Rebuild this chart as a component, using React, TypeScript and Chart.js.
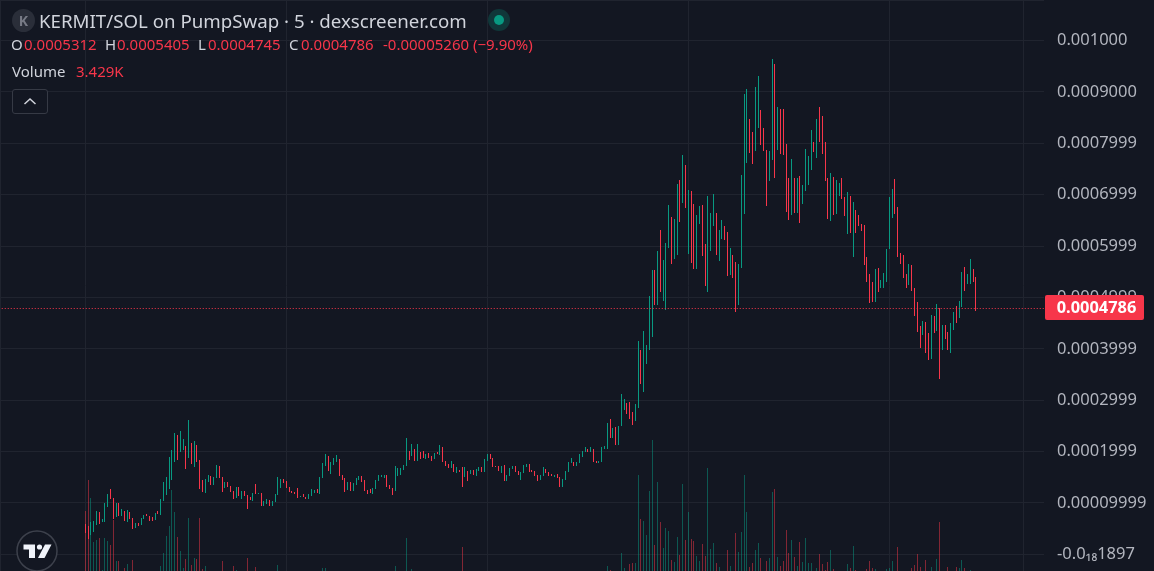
import React, { useEffect, useRef } from "react";
import { Chart, registerables } from "chart.js";

Chart.register(...registerables);

// Prices are in units of 0.0001 SOL, one entry per 5-minute candle.
const candleHighs = [
  0.59,0.55,0.63,0.65,0.85,0.83,0.69,1.00,1.18,1.27,
  1.10,1.00,1.00,0.88,0.85,0.86,0.83,0.71,0.61,0.61,
  0.71,0.77,0.79,0.75,0.73,0.81,0.85,1.08,1.41,1.51,
  1.89,2.03,2.36,2.32,2.40,2.24,2.11,2.61,2.17,2.20,
  2.13,1.84,1.45,1.47,1.54,1.52,1.51,1.74,1.72,1.51,
  1.41,1.41,1.33,1.23,1.31,1.31,1.23,1.23,1.16,1.12,
  1.19,1.37,1.19,1.19,1.04,1.08,1.06,1.04,1.18,1.51,
  1.47,1.47,1.43,1.31,1.23,1.21,1.29,1.14,1.18,1.12,
  1.18,1.27,1.25,1.27,1.51,1.78,1.95,1.91,1.80,1.87,
  1.93,1.85,1.54,1.49,1.41,1.41,1.39,1.49,1.52,1.52,
  1.45,1.25,1.27,1.29,1.45,1.54,1.54,1.54,1.54,1.35,
  1.29,1.72,1.68,1.68,1.74,2.26,2.01,2.15,2.05,2.15,
  1.99,2.01,1.95,1.97,1.91,1.97,1.99,2.13,2.09,1.82,
  1.76,1.82,1.76,1.70,1.64,1.70,1.70,1.62,1.64,1.64,
  1.66,1.70,1.70,1.85,1.95,1.95,1.87,1.72,1.72,1.72,
  1.74,1.54,1.68,1.72,1.72,1.62,1.60,1.74,1.76,1.76,
  1.64,1.62,1.54,1.54,1.70,1.66,1.60,1.56,1.54,1.56,
  1.51,1.47,1.62,1.80,1.87,1.80,1.80,1.95,2.01,2.09,
  2.05,2.09,2.05,1.82,1.82,2.09,2.11,2.55,2.63,2.46,
  2.48,2.50,3.12,3.03,2.95,2.97,2.77,2.93,4.16,3.98,
  4.35,4.08,5.03,5.54,5.54,5.91,6.32,5.73,6.06,6.81,
  6.57,6.53,7.21,7.29,7.78,7.58,7.10,7.08,6.82,6.61,
  6.79,6.81,6.05,6.98,6.65,7.02,6.65,6.32,6.51,6.40,
  6.28,5.97,5.83,5.69,5.66,7.39,8.97,9.06,8.48,8.23,
  9.10,9.32,8.64,8.29,7.88,7.86,9.65,9.55,8.71,8.66,
  8.66,7.99,7.33,7.70,7.33,7.33,7.37,7.19,7.90,7.76,
  8.27,8.03,8.48,8.71,8.54,8.03,7.33,7.43,7.35,7.29,
  7.23,7.32,6.95,7.05,6.97,6.85,6.71,6.60,6.44,6.42,
  5.78,5.45,5.31,5.55,5.58,5.35,5.47,5.95,6.95,7.12,
  7.30,6.77,5.86,5.82,5.45,5.66,5.64,5.18,4.92,4.44,
  4.55,4.53,4.30,4.65,4.63,4.88,4.79,4.47,4.47,4.32,
  4.51,4.71,4.84,4.94,5.49,5.60,5.45,5.74,5.55,5.405,
];
const candleLows = [
  0.42,0.30,0.38,0.43,0.57,0.59,0.62,0.63,0.92,1.08,
  0.69,0.73,0.75,0.75,0.65,0.63,0.69,0.50,0.52,0.55,
  0.57,0.69,0.75,0.65,0.65,0.67,0.79,0.77,1.04,1.16,
  1.27,1.45,1.80,1.84,1.99,2.03,1.66,1.87,1.76,1.70,
  1.80,1.27,1.21,1.19,1.41,1.35,1.35,1.49,1.49,1.21,
  1.29,1.31,1.21,1.08,1.10,1.14,1.08,1.14,0.88,1.06,
  1.04,1.18,1.18,0.94,0.94,0.98,0.94,0.94,1.02,1.16,
  1.29,1.39,1.29,1.21,1.19,1.18,1.10,1.12,1.12,1.08,
  1.08,1.14,1.19,1.19,1.18,1.49,1.72,1.62,1.56,1.74,
  1.80,1.52,1.45,1.21,1.25,1.23,1.23,1.35,1.45,1.41,
  1.23,1.18,1.19,1.18,1.27,1.43,1.51,1.49,1.31,1.27,
  1.16,1.23,1.52,1.54,1.64,1.72,1.84,1.91,1.82,1.82,
  1.85,1.87,1.85,1.87,1.82,1.85,1.95,1.93,1.80,1.72,
  1.68,1.68,1.60,1.58,1.60,1.31,1.51,1.43,1.56,1.54,
  1.52,1.62,1.60,1.60,1.82,1.85,1.70,1.70,1.62,1.58,
  1.43,1.43,1.52,1.66,1.60,1.54,1.45,1.58,1.70,1.60,
  1.60,1.52,1.43,1.45,1.52,1.58,1.52,1.52,1.51,1.49,
  1.31,1.31,1.45,1.60,1.78,1.72,1.72,1.78,1.89,1.99,
  1.99,1.99,1.80,1.78,1.78,1.80,2.05,2.05,2.26,2.26,
  2.13,2.13,2.49,2.81,2.73,2.64,2.52,2.60,2.85,3.32,
  3.16,3.71,3.98,4.23,4.86,4.86,5.11,4.94,4.76,5.97,
  5.66,5.75,5.83,6.47,6.84,6.75,5.85,5.68,5.56,5.56,
  6.44,5.81,5.23,5.11,5.91,6.40,5.83,5.71,6.14,6.12,
  5.42,5.44,5.38,4.72,4.86,5.58,6.63,7.62,7.82,7.60,
  7.86,8.29,7.97,7.86,6.79,7.27,7.68,7.33,7.88,7.80,
  7.78,6.67,6.51,6.61,6.65,6.65,6.45,6.82,7.08,7.18,
  7.49,7.84,7.72,8.03,7.80,7.27,6.53,6.49,6.61,6.63,
  6.98,6.91,6.58,6.23,6.25,5.78,6.25,6.40,6.29,5.64,
  5.31,4.90,4.92,4.92,5.10,5.19,5.19,5.31,5.94,6.54,
  6.62,5.78,5.66,5.37,5.19,5.25,5.12,4.63,4.32,4.01,
  4.26,3.91,3.79,3.81,4.30,4.34,3.42,3.97,4.20,3.97,
  3.91,4.36,4.51,4.61,4.82,5.12,5.27,5.27,5.31,4.745,
];
// 1 = green (up) candle, 0 = red (down) candle.
const candleUp = [
  0,0,1,1,1,0,1,1,1,0, 0,1,0,1,0,1,0,0,1,0, 1,1,0,0,0,1,0,1,1,1, 1,1,1,0,1,1,0,1,0,1,
  0,0,0,1,1,0,1,1,0,0, 1,0,0,0,1,0,1,0,0,0, 1,0,1,0,1,1,0,1,1,1, 1,0,0,0,0,0,0,1,0,0,
  1,1,1,0,1,1,1,0,1,1, 1,0,0,0,1,0,1,1,1,0, 0,0,0,1,1,1,1,1,0,0, 0,1,1,1,1,1,0,1,0,1,
  0,0,1,0,0,1,0,1,0,0, 0,1,0,1,0,0,1,0,1,0, 1,1,0,1,1,0,0,0,0,1, 0,1,1,1,0,0,1,1,1,0,
  0,0,0,1,1,0,0,0,1,0, 0,1,1,1,1,0,1,1,1,1, 0,1,0,0,1,1,1,1,0,1, 0,1,1,1,0,0,0,1,1,0,
  1,1,1,1,0,1,0,1,1,1, 0,1,1,0,1,0,1,0,0,1, 1,0,0,1,1,1,0,1,1,0, 0,1,0,0,1,1,1,1,0,0,
  1,1,0,0,0,1,1,0,1,0, 0,0,0,1,0,1,0,1,1,1, 1,0,1,0,0,0,0,1,0,1, 1,0,0,1,0,1,0,0,0,0,
  0,0,0,1,0,1,1,1,1,1, 0,0,0,0,0,1,0,0,0,0, 1,0,0,1,0,1,0,1,0,0, 1,1,0,1,1,0,1,1,0,0,
];
// Volumes (thousands) of the candles whose volume bar rises into the visible part of the pane.
const volumeCandle = [
  0,1,2,3,4,5,6,7,8,9,10,11,12,14,15,17,27,28,29,30,31,32,33,34,35,36,37,38,39,40,41,42,43,49,53,54,58,61,69,85,86,
  111,115,117,135,187,188,192,193,195,196,197,198,199,200,201,202,203,204,205,206,207,208,209,210,211,212,213,214,215,216,217,218,219,220,221,222,223,224,225,226,227,
  230,231,233,234,235,236,237,238,239,240,241,242,244,245,246,247,248,249,250,251,252,253,254,255,256,257,258,259,260,262,263,264,265,266,267,268,
  273,274,275,276,280,281,282,283,287,288,289,291,296,297,298,299,301,303,305,306,309,312,313,314,315,317,
];
const volumeK = [
  10.0,13.1,11.3,6.9,7.1,7.3,4.1,7.3,7.0,6.6,9.1,5.0,5.0,4.3,4.7,5.1,4.5,5.8,7.5,8.5,12.1,9.9,7.4,6.0,4.3,5.2,9.3,4.6,5.3,5.2,9.3,4.2,4.5,5.0,4.5,4.1,5.3,4.4,4.6,4.3,4.3,
  4.5,7.3,4.2,6.4,4.5,4.1,5.8,4.3,4.7,4.8,4.8,13.6,9.2,9.0,7.6,12.0,17.1,6.6,12.9,8.9,6.3,8.3,8.0,5.1,4.9,7.4,5.6,12.7,7.1,9.9,7.2,7.0,5.5,5.0,6.7,5.5,14.3,6.2,6.8,4.8,4.4,
  6.1,4.5,7.8,5.9,7.9,13.6,9.9,4.4,4.8,6.1,6.8,5.3,5.0,5.3,11.9,12.2,5.4,4.5,5.0,8.1,5.8,7.1,5.4,4.5,6.9,4.9,7.3,4.8,4.8,4.3,5.7,4.7,4.1,4.9,6.1,4.2,
  4.7,4.3,6.5,4.1,4.2,5.0,4.3,4.2,4.2,4.3,5.0,6.4,4.3,4.6,5.7,4.4,5.1,4.4,5.2,8.9,4.4,4.4,4.3,5.1,4.3,4.1,
];
const priceTicks = [10, 9, 8, 7, 6, 5, 4, 3, 2, 1, 0];
const priceTickLabels = [
  "0.001000", "0.0009000", "0.0007999", "0.0006999", "0.0005999", "0.0004999",
  "0.0003999", "0.0002999", "0.0001999", "0.00009999", "-0.0₁₈1897",
];
const timeTicks = [0, 72, 144, 216, 288, 336];
const lastClose = 4.786;
const lastCloseLabel = "0.0004786";

const titleText = "KERMIT/SOL on PumpSwap · 5 · dexscreener.com";
const ohlcLabels = ["O", "H", "L", "C"];
const ohlcValues = ["0.0005312", "0.0005405", "0.0004745", "0.0004786"];
const changeText = "-0.00005260 (−9.90%)";
const volumeLabel = "Volume";
const volumeValue = "3.429K";

const GREEN = "#089981";
const RED = "#f7364a";
const GREEN_VOL = "rgba(8,153,129,0.5)";
const RED_VOL = "rgba(242,54,69,0.5)";
const BG = "#131722";
const GRID = "#20242f";
const TEXT = "#d1d4dc";
const AXIS_TEXT = "#b2b5be";
const FONT = '"Noto Sans", sans-serif';

const snapPlugin = {
  id: "snap",
  afterDatasetsUpdate(chart: any) {
    chart.data.datasets.forEach((ds: any, i: number) => {
      const meta = chart.getDatasetMeta(i);
      meta.data.forEach((el: any) => {
        if (ds.type === "bar") {
          el.x = Math.floor(el.x) + 0.5;
          el.y = Math.round(el.y);
          el.base = Math.round(el.base);
          if (el.y === el.base) el.base += 1;
        } else {
          el.y = Math.floor(el.y) + 0.5;
        }
      });
    });
  },
};

const badgePlugin = {
  id: "badge",
  afterDraw(chart: any) {
    const { ctx } = chart;
    const y = chart.scales.y.getPixelForValue(lastClose);
    const left = chart.chartArea.right + 1;
    ctx.save();
    ctx.fillStyle = RED;
    ctx.beginPath();
    ctx.roundRect(left, Math.round(y) - 13, 99, 25, 2);
    ctx.fill();
    ctx.fillStyle = "#ffffff";
    ctx.font = `bold 16.4px ${FONT}`;
    ctx.textAlign = "center";
    ctx.textBaseline = "middle";
    ctx.fillText(lastCloseLabel, left + 51.5, Math.round(y));
    ctx.restore();
  },
};

export default function App() {
  const ref = useRef<HTMLCanvasElement>(null);
  useEffect(() => {
    document.body.style.margin = "0";
    document.body.style.background = BG;
    const chart = new Chart(ref.current!, {
      type: "bar",
      data: {
        datasets: [
          {
            type: "line",
            data: [
              { x: -31, y: lastClose },
              { x: 344, y: lastClose },
            ],
            borderColor: RED,
            borderWidth: 1,
            borderDash: [1, 2],
            pointRadius: 0,
            order: 0,
            yAxisID: "y",
          },
          {
            type: "bar",
            data: candleHighs.map((h, i) => ({ x: i, y: [candleLows[i], h] })),
            backgroundColor: candleUp.map((u) => (u ? GREEN : RED)),
            barThickness: 1,
            grouped: false,
            borderWidth: 0,
            inflateAmount: 0,
            order: 1,
            yAxisID: "y",
          },
          {
            type: "bar",
            data: volumeCandle.map((c, i) => ({ x: c, y: volumeK[i] })),
            backgroundColor: volumeCandle.map((c) => (candleUp[c] ? GREEN_VOL : RED_VOL)),
            barThickness: 1,
            grouped: false,
            borderWidth: 0,
            inflateAmount: 0,
            order: 2,
            yAxisID: "vol",
          },
        ],
      } as any,
      options: {
        animation: false,
        responsive: false,
        maintainAspectRatio: false,
        layout: { padding: 0 },
        plugins: { legend: { display: false }, tooltip: { enabled: false } },
        scales: {
          x: {
            type: "linear",
            offset: false,
            min: -30.55,
            max: 343.4,
            border: { display: false },
            grid: { color: GRID, drawTicks: false, offset: false },
            ticks: { display: false },
            afterBuildTicks: (s: any) => {
              s.ticks = timeTicks.map((value) => ({ value }));
            },
            afterFit: (s: any) => {
              s.height = 0;
              s.paddingLeft = 0;
              s.paddingRight = 0;
            },
          },
          y: {
            type: "linear",
            position: "right",
            min: -0.3244,
            max: 10.7909,
            border: { display: false },
            grid: { color: GRID, drawTicks: false },
            ticks: {
              color: AXIS_TEXT,
              font: { family: FONT, size: 16.5 },
              padding: 13,
              crossAlign: "near",
              autoSkip: false,
              callback: (_v: any, i: number) => priceTickLabels[i],
            },
            afterBuildTicks: (s: any) => {
              s.ticks = priceTicks.map((value) => ({ value }));
            },
            afterFit: (s: any) => {
              s.width = 110;
              s.paddingTop = 0;
              s.paddingBottom = 0;
            },
          },
          vol: {
            type: "linear",
            display: false,
            position: "left",
            min: 4,
            max: 61.1,
            grid: { display: false },
          },
        },
      } as any,
      plugins: [snapPlugin, badgePlugin],
    });
    return () => chart.destroy();
  }, []);

  const abs = (left: number, top: number, extra: React.CSSProperties = {}): React.CSSProperties => ({
    position: "absolute",
    left,
    top,
    whiteSpace: "nowrap",
    fontFamily: FONT,
    ...extra,
  });
  const ohlcLeft = [11, 105, 198, 289];
  const ohlcValLeft = [24, 117, 208, 301];

  return (
    <div style={{ position: "relative", width: 1154, height: 571, overflow: "hidden", background: BG }}>
      <canvas ref={ref} width={1154} height={571} style={{ display: "block", width: 1154, height: 571 }} />

      <div style={{ position: "absolute", left: 0, top: 0, width: 1, height: 571, background: GRID }} />
      <div style={{ position: "absolute", left: 0, top: 0, width: 1044, height: 1, background: GRID }} />

      <div style={abs(12, 9, { width: 23, height: 23, borderRadius: 12, background: "#2a2e39", color: "#787b86", fontSize: 14, fontWeight: 700, lineHeight: "23px", textAlign: "center" })}>K</div>
      <div style={abs(39, 8, { color: TEXT, fontSize: 18.7, lineHeight: "26px" })}>{titleText}</div>
      <div style={abs(488, 9, { width: 22, height: 22, borderRadius: 11, background: "rgba(8,153,129,0.25)" })} />
      <div style={abs(494, 15, { width: 10, height: 10, borderRadius: 5, background: GREEN })} />

      {ohlcLabels.map((l, i) => (
        <React.Fragment key={l}>
          <div style={abs(ohlcLeft[i], 34, { color: TEXT, fontSize: 15, lineHeight: "20px" })}>{l}</div>
          <div style={abs(ohlcValLeft[i], 34, { color: RED, fontSize: 15, lineHeight: "20px" })}>{ohlcValues[i]}</div>
        </React.Fragment>
      ))}
      <div style={abs(383, 34, { color: RED, fontSize: 15, lineHeight: "20px" })}>{changeText}</div>

      <div style={abs(12, 61, { color: TEXT, fontSize: 15, lineHeight: "20px" })}>{volumeLabel}</div>
      <div style={abs(76, 61, { color: RED, fontSize: 15, lineHeight: "20px" })}>{volumeValue}</div>

      <div style={{ position: "absolute", left: 12, top: 89, width: 34, height: 23, border: "1px solid #363a45", borderRadius: 3, background: BG }}>
        <svg width="34" height="23" style={{ display: "block" }}>
          <path d="M11.5 14 L17 9 L22.5 14" fill="none" stroke={TEXT} strokeWidth="1.5" />
        </svg>
      </div>

      <svg width="42" height="42" style={{ position: "absolute", left: 16, top: 530 }}>
        <circle cx="21" cy="21" r="20" fill={BG} stroke="#3d414c" strokeWidth="1.5" />
        <path d="M7.5 14.5 H19 V28 H13 V19.5 H7.5 Z" fill="#f0f3fa" />
        <circle cx="23.5" cy="17" r="2.6" fill="#f0f3fa" />
        <path d="M29 14.5 H35.5 L28.5 28 H22 Z" fill="#f0f3fa" />
      </svg>
    </div>
  );
}
